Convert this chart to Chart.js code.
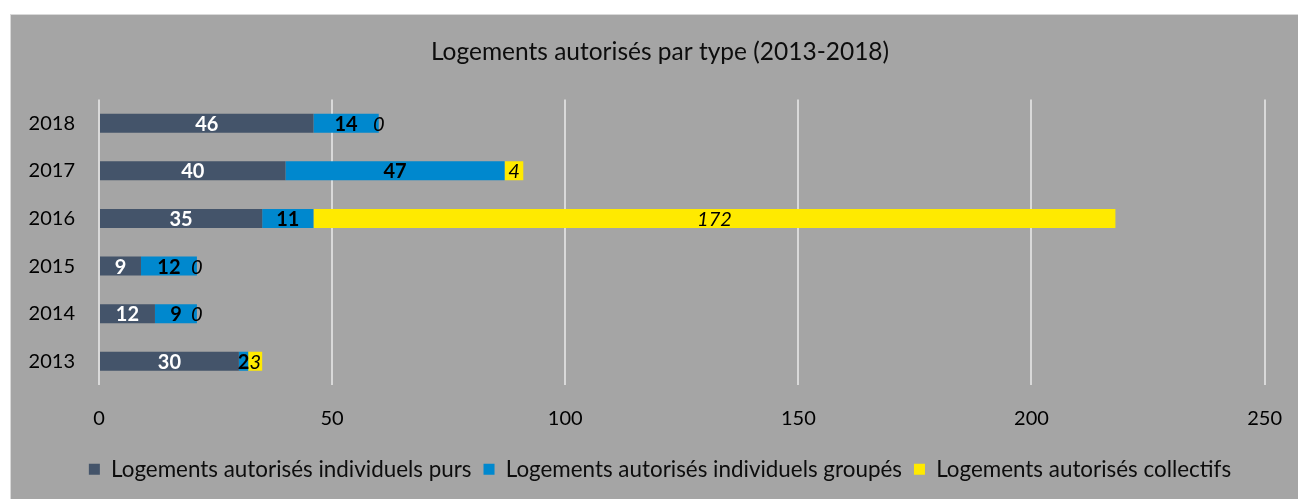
<!DOCTYPE html>
<html>
<head>
<meta charset="utf-8">
<script src="https://cdn.jsdelivr.net/npm/chart.js@4/dist/chart.umd.min.js"></script>
<style>
  html, body { margin: 0; padding: 0; background: #ffffff; }
  #frame {
    position: absolute; left: 10px; top: 14px; width: 1287px; height: 484px;
    background: #a5a5a5; border-left: 1px solid #d9d9d9; border-top: 1px solid #d9d9d9;
  }
  #frame canvas { display: block; }
</style>
</head>
<body>
<div id="frame"><canvas id="c"></canvas></div>
<script>
const title = 'Logements autorisés par type (2013-2018)';
const categories = ['2013', '2014', '2015', '2016', '2017', '2018'];
const seriesNames = [
  'Logements autorisés individuels purs',
  'Logements autorisés individuels groupés',
  'Logements autorisés collectifs'
];
const individuelsPurs = [30, 12, 9, 35, 40, 46];
const individuelsGroupes = [2, 9, 12, 11, 47, 14];
const collectifs = [3, 0, 0, 172, 4, 0];
const xTicks = [0, 50, 100, 150, 200, 250];

const seriesColors = ['#44546a', '#0088ce', '#ffea00'];
const labelStyles = [
  { color: '#ffffff', style: 'normal', weight: 'bold' },
  { color: '#000000', style: 'normal', weight: 'bold' },
  { color: '#000000', style: 'italic', weight: 'normal' }
];
const FONT = 'Lato';

const dataLabels = {
  id: 'dataLabels',
  afterDatasetsDraw(chart) {
    const ctx = chart.ctx;
    chart.data.datasets.forEach((ds, di) => {
      const meta = chart.getDatasetMeta(di);
      const st = labelStyles[di];
      ctx.save();
      ctx.font = st.style + ' ' + st.weight + ' 20px ' + FONT;
      ctx.fillStyle = st.color;
      ctx.textAlign = 'center';
      ctx.textBaseline = 'middle';
      meta.data.forEach((el, i) => {
        const cx = (el.x + el.base) / 2;
        ctx.fillText(String(ds.data[i]), cx, el.y + 1);
      });
      ctx.restore();
    });
  }
};

new Chart(document.getElementById('c'), {
  type: 'bar',
  data: {
    labels: categories,
    datasets: [
      { label: seriesNames[0], data: individuelsPurs, backgroundColor: seriesColors[0] },
      { label: seriesNames[1], data: individuelsGroupes, backgroundColor: seriesColors[1] },
      { label: seriesNames[2], data: collectifs, backgroundColor: seriesColors[2] }
    ]
  },
  options: {
    indexAxis: 'y',
    responsive: true,
    maintainAspectRatio: false,
    animation: false,
    datasets: { bar: { categoryPercentage: 1, barPercentage: 0.4 } },
    layout: { padding: { left: 11, right: 0, top: 0, bottom: 8.5 } },
    scales: {
      x: {
        stacked: true,
        min: 0, max: 250,
        afterBuildTicks(scale) { scale.ticks = xTicks.map(v => ({ value: v })); },
        grid: { color: '#d9d9d9', lineWidth: 2, drawTicks: true, tickLength: 5, tickColor: 'rgba(0,0,0,0)' },
        border: { display: false },
        ticks: { color: '#000000', padding: 16, font: { family: FONT, size: 20 } }
      },
      y: {
        stacked: true,
        reverse: true,
        afterFit(scale) { scale.width = 77; },
        grid: { display: false, drawTicks: false },
        border: { display: false },
        ticks: { color: '#000000', padding: 24, font: { family: FONT, size: 20 } }
      }
    },
    plugins: {
      title: {
        display: true, text: title, color: '#0d0d0d',
        font: { family: FONT, size: 24.5, weight: 'normal' },
        padding: { top: 22, bottom: 33 }
      },
      legend: {
        display: true, position: 'bottom',
        labels: {
          color: '#0d0d0d', boxWidth: 11, boxHeight: 11, padding: 12,
          font: { family: FONT, size: 22.4 }
        }
      },
      tooltip: { enabled: false }
    }
  },
  plugins: [dataLabels]
});
</script>
</body>
</html>
